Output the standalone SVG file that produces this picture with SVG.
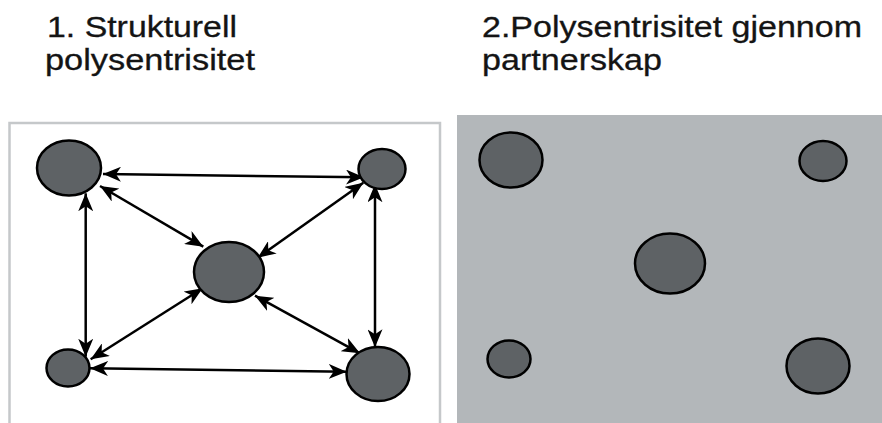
<svg xmlns="http://www.w3.org/2000/svg" width="882" height="423" viewBox="0 0 882 423">
  <defs>
    <style>
      .title { font-family: "Liberation Sans", Arial, sans-serif; font-size: 29px; fill: #141414; stroke: #141414; stroke-width: 0.3; }
      .node { fill: #5e6265; stroke: #000; stroke-width: 2.5; }
      .link { stroke: #000; stroke-width: 2.5; fill: none; marker-start: url(#arrow); marker-end: url(#arrow); }
    </style>
    <marker id="arrow" markerUnits="userSpaceOnUse" markerWidth="19" markerHeight="15" refX="18" refY="7.5" orient="auto-start-reverse">
      <path d="M0,0 L18,7.5 L0,15 L5,7.5 Z" fill="#000"/>
    </marker>
  </defs>

  <rect width="882" height="423" fill="#fff"/>

  <!-- headings -->
  <g id="heading-1">
    <text class="title" x="47" y="37" textLength="190" lengthAdjust="spacingAndGlyphs">1. Strukturell</text>
    <text class="title" x="45" y="70" textLength="210" lengthAdjust="spacingAndGlyphs">polysentrisitet</text>
  </g>
  <g id="heading-2">
    <text class="title" x="482" y="37" textLength="380" lengthAdjust="spacingAndGlyphs">2.Polysentrisitet gjennom</text>
    <text class="title" x="482" y="70" textLength="180" lengthAdjust="spacingAndGlyphs">partnerskap</text>
  </g>

  <!-- panel 1: structural network -->
  <rect id="panel-1" x="9.5" y="123" width="430.5" height="310" fill="#fff" stroke="#c5c8ca" stroke-width="2.5"/>

  <g id="connectors">
    <line class="link" x1="103" y1="174" x2="364" y2="177.3"/>
    <line class="link" x1="100" y1="186" x2="203.3" y2="246.7"/>
    <line class="link" x1="363.3" y1="182.7" x2="257.7" y2="257.7"/>
    <line class="link" x1="85.7" y1="193.3" x2="85.7" y2="356.7"/>
    <line class="link" x1="375" y1="184.3" x2="375" y2="347.3"/>
    <line class="link" x1="202.7" y1="288.3" x2="90.7" y2="359.3"/>
    <line class="link" x1="255" y1="295.7" x2="360" y2="353.3"/>
    <line class="link" x1="90" y1="368.3" x2="346.7" y2="371.7"/>
  </g>

  <g id="p1-top-left"><ellipse class="node" cx="69" cy="168" rx="32" ry="27.5"/></g>
  <g id="p1-top-right"><ellipse class="node" cx="382" cy="169" rx="23.5" ry="20"/></g>
  <g id="p1-center"><ellipse class="node" cx="229" cy="272" rx="35" ry="30"/></g>
  <g id="p1-bottom-left"><ellipse class="node" cx="68" cy="368" rx="21.5" ry="18.5"/></g>
  <g id="p1-bottom-right"><ellipse class="node" cx="378" cy="374" rx="31.5" ry="27"/></g>

  <!-- panel 2: partnership -->
  <rect id="panel-2" x="457" y="115" width="425" height="308" fill="#b3b7ba"/>

  <g id="p2-top-left"><ellipse class="node" cx="511" cy="160" rx="31.5" ry="27.5"/></g>
  <g id="p2-top-right"><ellipse class="node" cx="823" cy="161" rx="23.5" ry="20"/></g>
  <g id="p2-center"><ellipse class="node" cx="670" cy="263.5" rx="35" ry="30"/></g>
  <g id="p2-bottom-left"><ellipse class="node" cx="509" cy="359" rx="21.5" ry="18.5"/></g>
  <g id="p2-bottom-right"><ellipse class="node" cx="818" cy="366" rx="31.5" ry="27.5"/></g>
</svg>
